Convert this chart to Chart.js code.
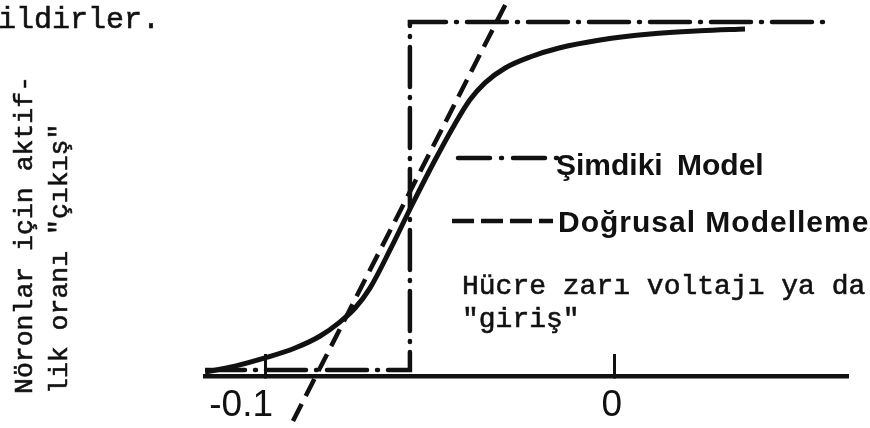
<!DOCTYPE html>
<html>
<head>
<meta charset="utf-8">
<script src="https://cdn.jsdelivr.net/npm/chart.js@4.4.1/dist/chart.umd.min.js"></script>
<style>
  html, body { margin: 0; padding: 0; background: #fff; }
  #wrap { position: relative; width: 870px; height: 428px; overflow: hidden; }
  #chart { position: absolute; left: 0; top: 0; }
  .mono { position: absolute; white-space: pre; color: #111; font-family: 'Liberation Mono', 'DejaVu Sans Mono', monospace; -webkit-text-stroke: 0.6px #111; }
  .sans { position: absolute; white-space: pre; color: #111; font-family: 'Liberation Sans', Arial, sans-serif; font-weight: bold; font-size: 30px; line-height: 30px; }
  #top-text { left: -2px; top: 5px; font-size: 30px; line-height: 30px; }
  #y-label { left: 8px; top: 394px; font-size: 26.5px; line-height: 35px; transform-origin: 0 0; transform: rotate(-90deg); }
  #x-label { left: 462px; top: 270px; font-size: 28px; line-height: 33px; }
  #key-step { left: 556px; top: 150px; word-spacing: 6px; }
  #key-linear { left: 558px; top: 207px; letter-spacing: 1px; }
</style>
</head>
<body>
<div id="wrap">
  <canvas id="chart" width="870" height="428"></canvas>
  <div class="mono" id="top-text">ildirler.</div>
  <div class="mono" id="y-label">Nöronlar için aktif-
lik oranı "çıkış"</div>
  <div class="mono" id="x-label">Hücre zarı voltajı ya da
"giriş"</div>
  <div class="sans" id="key-step">Şimdiki Model</div>
  <div class="sans" id="key-linear">Doğrusal Modelleme</div>
</div>
<script>
// input axis (membrane voltage) ticks
const xTicks = [-0.1, 0];
const xTickLabels = ['-0.1', '0'];

// smooth sigmoid response
const sigmoidX = [-0.1172, -0.1086, -0.1000, -0.0914, -0.0842, -0.0785, -0.0742, -0.0699, -0.0642, -0.0579, -0.0513,
                  -0.0456, -0.0413, -0.0370, -0.0312, -0.0241, -0.0155, -0.0040, 0.0103, 0.0246, 0.0375];
const sigmoidY = [0.011, 0.028, 0.051, 0.079, 0.113, 0.153, 0.192, 0.249, 0.356, 0.483, 0.610,
                  0.712, 0.780, 0.828, 0.870, 0.901, 0.927, 0.949, 0.966, 0.975, 0.980];

// threshold (step) model
const stepX = [-0.1172, -0.0585, -0.0585, 0.0620];
const stepY = [0.017, 0.017, 1.0, 1.0];

// linear model
const linearX = [-0.0312, -0.0937];
const linearY = [1.048, -0.160];

const toPoints = (xs, ys) => xs.map((x, i) => ({ x, y: ys[i] }));

// little line samples next to the key labels
const legendKeys = {
  id: 'legendKeys',
  afterDraw(chart) {
    const ctx = chart.ctx;
    ctx.save();
    ctx.strokeStyle = '#111';
    ctx.lineWidth = 4.5;
    ctx.lineCap = 'round';
    ctx.setLineDash([32, 11, 1, 11]);
    ctx.beginPath();
    ctx.moveTo(458, 158);
    ctx.lineTo(557, 158);
    ctx.stroke();
    ctx.lineCap = 'butt';
    ctx.setLineDash([22, 7]);
    ctx.beginPath();
    ctx.moveTo(452, 221);
    ctx.lineTo(553, 221);
    ctx.stroke();
    ctx.restore();
  }
};

new Chart(document.getElementById('chart'), {
  type: 'line',
  data: {
    datasets: [
      {
        label: 'Sigmoid',
        data: toPoints(sigmoidX, sigmoidY),
        borderColor: '#111',
        borderWidth: 5,
        cubicInterpolationMode: 'monotone',
        pointRadius: 0,
        fill: false
      },
      {
        label: 'Şimdiki Model',
        data: toPoints(stepX, stepY),
        borderColor: '#111',
        borderWidth: 4.5,
        borderDash: [40, 10, 1, 10],
        borderCapStyle: 'round',
        tension: 0,
        pointRadius: 0,
        fill: false
      },
      {
        label: 'Doğrusal Modelleme',
        data: toPoints(linearX, linearY),
        borderColor: '#111',
        borderWidth: 4.5,
        borderDash: [19, 9],
        tension: 0,
        pointRadius: 0,
        fill: false,
        clip: false
      }
    ]
  },
  options: {
    responsive: false,
    animation: false,
    devicePixelRatio: 1,
    layout: { padding: { left: 205, right: 22, top: 0, bottom: 0 } },
    plugins: { legend: { display: false }, tooltip: { enabled: false } },
    scales: {
      x: {
        type: 'linear',
        min: -0.1172,
        max: 0.067,
        afterBuildTicks: s => { s.ticks = xTicks.map(v => ({ value: v })); },
        afterFit: s => { s.height = 52; },
        border: { display: true, width: 4.5, color: '#111' },
        grid: { display: true, drawOnChartArea: false, drawTicks: true, tickLength: -22, tickWidth: 3, tickColor: '#111' },
        ticks: {
          align: 'end',
          labelOffset: 8,
          padding: 30,
          color: '#111',
          font: { family: "'Liberation Sans', Arial, sans-serif", size: 37 },
          callback: (v, i) => xTickLabels[i]
        }
      },
      y: { type: 'linear', display: false, min: 0, max: 1.062 }
    }
  },
  plugins: [legendKeys]
});
</script>
</body>
</html>
